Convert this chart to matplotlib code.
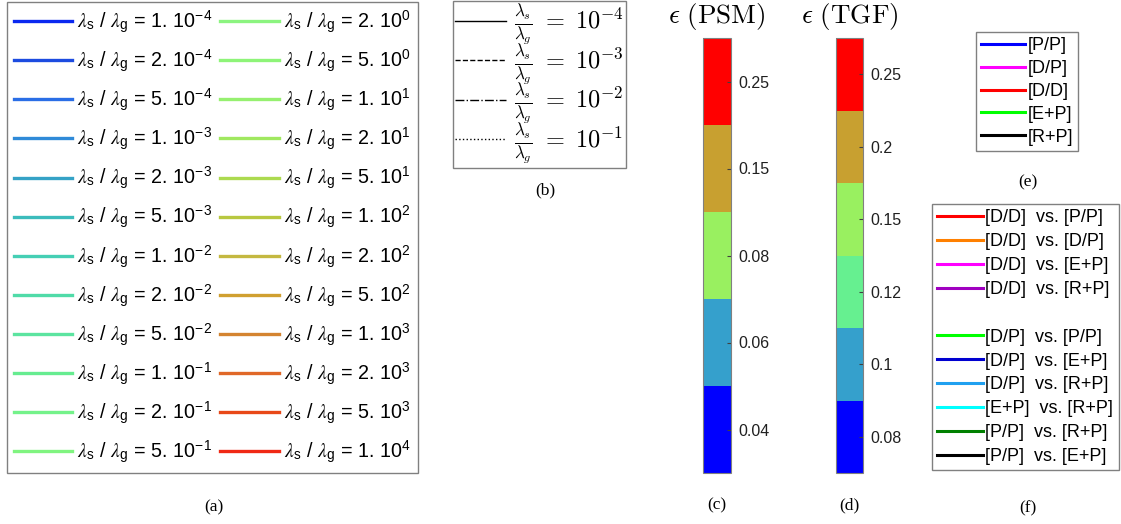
import matplotlib
matplotlib.use("Agg")
import matplotlib.pyplot as plt
from matplotlib.lines import Line2D
from matplotlib.colors import ListedColormap, BoundaryNorm
from matplotlib.cm import ScalarMappable

plt.rcParams['font.family'] = 'Liberation Sans'

# (a) ratio legend
ratio_mant = ['1', '2', '5', '1', '2', '5', '1', '2', '5', '1', '2', '5',
              '2', '5', '1', '2', '5', '1', '2', '5', '1', '2', '5', '1']
ratio_exp = ['-4', '-4', '-4', '-3', '-3', '-3', '-2', '-2', '-2', '-1', '-1', '-1',
             '0', '0', '1', '1', '1', '2', '2', '2', '3', '3', '3', '4']
ratio_colors = ['#0a28f0', '#1c4be0', '#2a6ee6', '#2f8ad8', '#35a2c6', '#3cbcbc',
                '#45cfb4', '#50dba8', '#5ce4a0', '#66ec90', '#74f28a', '#80f480',
                '#8cf480', '#8ef478', '#96f070', '#a0e860', '#acda50', '#b8c840',
                '#c4b840', '#d0a030', '#d48430', '#e06828', '#e84818', '#f02814']

# (b) line style legend
style_exp = ['-4', '-3', '-2', '-1']
styles = ['-', '--', '-.', ':']

# (c) PSM colorbar
psm_labels = ['0.04', '0.06', '0.08', '0.15', '0.25']
psm_colors = ['#0000ff', '#35a0cc', '#99f060', '#c8a030', '#ff0000']

# (d) TGF colorbar
tgf_labels = ['0.08', '0.1', '0.12', '0.15', '0.2', '0.25']
tgf_colors = ['#0000ff', '#35a0cc', '#66f090', '#99f060', '#c8a030', '#ff0000']

# (e) methods
methods = ['[P/P]', '[D/P]', '[D/D]', '[E+P]', '[R+P]']
method_colors = ['#0000ff', '#ff00ff', '#ff0000', '#00ff00', '#000000']

# (f) comparisons (None = blank row)
pairs = ['[D/D]  vs. [P/P]', '[D/D]  vs. [D/P]', '[D/D]  vs. [E+P]', '[D/D]  vs. [R+P]', None,
         '[D/P]  vs. [P/P]', '[D/P]  vs. [E+P]', '[D/P]  vs. [R+P]', '[E+P]  vs. [R+P]',
         '[P/P]  vs. [R+P]', '[P/P]  vs. [E+P]']
pair_colors = ['#ff0000', '#ff8000', '#ff00ff', '#a000c0', None,
               '#00ff00', '#0000d0', '#20a0f0', '#00ffff', '#008000', '#000000']

W, H = 1121, 524
fig = plt.figure(figsize=(W / 100, H / 100), dpi=100)


def fx(x):
    return x / W


def fy(y):
    return 1 - y / H


frame = dict(fancybox=False, edgecolor='#808080', framealpha=1,
             borderaxespad=0, bbox_transform=fig.transFigure, loc='upper left')

# (a)
h_a = [Line2D([], [], color=c, lw=2.4) for c in ratio_colors]
l_a = [r'$\lambda_\mathregular{s}$ / $\lambda_\mathregular{g}$ = %s. 10$^\mathregular{%s}$' % (m, e)
       for m, e in zip(ratio_mant, ratio_exp)]
leg = fig.legend(h_a, l_a, ncol=2, bbox_to_anchor=(fx(7), fy(2)), fontsize=14.2,
                 handlelength=2.95, handletextpad=0.28, columnspacing=0.4,
                 labelspacing=0.6, borderpad=0.33, **frame)
for t in leg.get_texts():
    t.set_math_fontfamily('stix')
leg.get_frame().set_linewidth(1.0)

# (b)
h_b = [Line2D([], [], color='black', lw=1.0, ls=s) for s in styles]
l_b = [r'$\frac{\lambda_s}{\lambda_g}\ =\ 10^{%s}$' % e for e in style_exp]
leg = fig.legend(h_b, l_b, bbox_to_anchor=(fx(453), fy(0.5)), fontsize=17.5,
                 handlelength=2.1, handletextpad=0.3, labelspacing=-0.2,
                 borderpad=0.1, **frame)
for t in leg.get_texts():
    t.set_math_fontfamily('cm')
leg.get_frame().set_linewidth(1.0)

# (c), (d) colorbars
for left, width, labels, colors, title in [
        (703, 28, psm_labels, psm_colors, r'$\epsilon\ \mathrm{(PSM)}$'),
        (836, 27, tgf_labels, tgf_colors, r'$\epsilon\ \mathrm{(TGF)}$')]:
    n = len(labels)
    cax = fig.add_axes([fx(left), fy(473), width / W, 435 / H])
    sm = ScalarMappable(norm=BoundaryNorm(range(n + 1), n), cmap=ListedColormap(colors))
    cb = fig.colorbar(sm, cax=cax, ticks=[i + 0.5 for i in range(n)])
    cb.set_ticklabels(labels)
    cax.minorticks_off()
    cb.outline.set_edgecolor('#808080')
    cb.outline.set_linewidth(0.8)
    cax.tick_params(direction='in', length=3, width=0.8, color='#404040',
                    labelsize=11.5, labelcolor='#202020', pad=5)
    fig.text(fx(left + width / 2), fy(16), title, ha='center', va='center',
             fontsize=19.5, math_fontfamily='cm')

# (e)
h_e = [Line2D([], [], color=c, lw=2.2) for c in method_colors]
leg = fig.legend(h_e, methods, bbox_to_anchor=(fx(976), fy(32)), fontsize=13,
                 handlelength=2.4, handletextpad=0.15, labelspacing=0.32,
                 borderpad=0.3, **frame)
leg.get_frame().set_linewidth(1.0)

# (f)
h_f = [Line2D([], [], color=c if c else 'none', lw=2.2) for c in pair_colors]
l_f = [p if p else ' ' for p in pairs]
leg = fig.legend(h_f, l_f, bbox_to_anchor=(fx(932), fy(204)), fontsize=13,
                 handlelength=2.5, handletextpad=0.15, labelspacing=0.38,
                 borderpad=0.3, **frame)
leg.get_frame().set_linewidth(1.0)

# panel letters
for x, y, s in [(214, 507, '(a)'), (545, 190, '(b)'), (717, 505, '(c)'),
                (849, 505, '(d)'), (1028, 182, '(e)'), (1028, 508, '(f)')]:
    fig.text(fx(x), fy(y), s, ha='center', va='center', fontsize=12.5,
             family='Liberation Serif')

fig.savefig('out.png', dpi=100)
